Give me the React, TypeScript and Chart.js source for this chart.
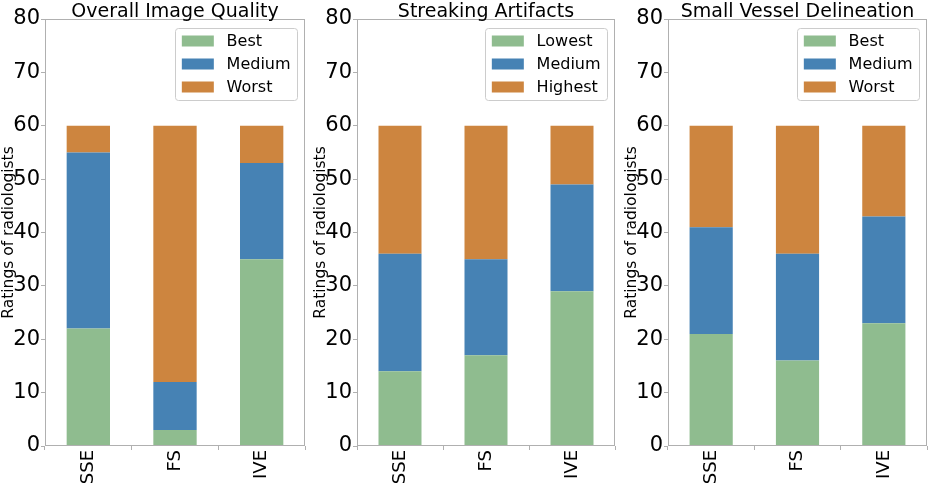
import React, { useEffect, useRef } from "react";
import { Chart, registerables } from "chart.js";

Chart.register(...registerables);

const categories = ["SSE", "FS", "IVE"];

const overallBest = [22, 3, 35];
const overallMedium = [33, 9, 18];
const overallWorst = [5, 48, 7];

const streakLowest = [14, 17, 29];
const streakMedium = [22, 18, 20];
const streakHighest = [24, 25, 11];

const vesselBest = [21, 16, 23];
const vesselMedium = [20, 20, 20];
const vesselWorst = [19, 24, 17];

const yTickMax = 80;
const yTickStep = 10;
const yAxisLabel = "Ratings of radiologists";

const GREEN = "#8fbc8f";
const BLUE = "#4682b4";
const ORANGE = "#cd853f";
const FONT = '"DejaVu Sans", sans-serif';

type PanelSpec = {
  title: string;
  labels: string[];
  series: number[][];
  plotLeft: number;
  plotRight: number;
};

const panels: PanelSpec[] = [
  { title: "Overall Image Quality", labels: ["Best", "Medium", "Worst"], series: [overallBest, overallMedium, overallWorst], plotLeft: 45, plotRight: 305 },
  { title: "Streaking Artifacts", labels: ["Lowest", "Medium", "Highest"], series: [streakLowest, streakMedium, streakHighest], plotLeft: 357, plotRight: 615 },
  { title: "Small Vessel Delineation", labels: ["Best", "Medium", "Worst"], series: [vesselBest, vesselMedium, vesselWorst], plotLeft: 668, plotRight: 927 },
];

const COLORS = [GREEN, BLUE, ORANGE];
const H = 484;
const PLOT_TOP = 19;
const PLOT_BOTTOM = 446;
const YAXIS_W = 45;

const decoPlugin = {
  id: "panelDeco",
  afterDraw(chart: any, _args: any, opts: any) {
    const { ctx, chartArea: a } = chart;
    ctx.save();
    // spines
    ctx.strokeStyle = "#b0b0b0";
    ctx.lineWidth = 1;
    ctx.strokeRect(Math.round(a.left) + 0.5, Math.round(a.top) + 0.5, Math.round(a.right - a.left) - 1, Math.round(a.bottom - a.top) - 1);
    // title
    ctx.fillStyle = "#000";
    ctx.font = `19px ${FONT}`;
    ctx.textAlign = "center";
    ctx.textBaseline = "alphabetic";
    ctx.fillText(opts.title, (a.left + a.right) / 2, a.top - 2.5);
    // y label
    ctx.save();
    ctx.translate(a.left - 36.5, (a.top + a.bottom) / 2);
    ctx.rotate(-Math.PI / 2);
    ctx.font = `15.5px ${FONT}`;
    ctx.textBaseline = "middle";
    ctx.textAlign = "center";
    ctx.fillText(yAxisLabel, 0, 0);
    ctx.restore();
    // legend
    const fs = 16;
    ctx.font = `${fs}px ${FONT}`;
    const labels: string[] = opts.labels;
    const maxW = Math.max(...labels.map((l) => ctx.measureText(l).width));
    const pad = 0.4 * fs;
    const handle = 2 * fs;
    const tpad = 0.8 * fs;
    const boxW = pad + handle + tpad + maxW + pad;
    const boxH = 72;
    const right = a.right - 8;
    const left = right - boxW;
    const top = a.top + 9;
    ctx.fillStyle = "rgba(255,255,255,0.8)";
    ctx.strokeStyle = "#cccccc";
    ctx.lineWidth = 1;
    ctx.beginPath();
    (ctx as any).roundRect(Math.round(left) + 0.5, Math.round(top) + 0.5, Math.round(boxW), boxH, 3);
    ctx.fill();
    ctx.stroke();
    labels.forEach((l, i) => {
      const cy = top + 13 + i * 23;
      ctx.fillStyle = opts.colors[i];
      ctx.fillRect(left + pad, cy - 5.5, handle, 11);
      ctx.fillStyle = "#000";
      ctx.textAlign = "left";
      ctx.textBaseline = "middle";
      ctx.fillText(l, left + pad + handle + tpad, cy + 1);
    });
    ctx.restore();
  },
};

function Panel({ spec }: { spec: PanelSpec }) {
  const ref = useRef<HTMLCanvasElement>(null);
  const canvasLeft = spec.plotLeft - YAXIS_W;
  const width = Math.min(930, spec.plotRight + 3) - canvasLeft;
  const rightPad = width - (spec.plotRight - canvasLeft);

  useEffect(() => {
    if (!ref.current) return;
    const chart = new Chart(ref.current, {
      type: "bar",
      data: {
        labels: categories,
        datasets: spec.series.map((vals, i) => ({
          label: spec.labels[i],
          data: vals,
          backgroundColor: COLORS[i],
          borderWidth: 0,
          categoryPercentage: 1,
          barPercentage: 0.5,
        })),
      },
      options: {
        animation: false,
        responsive: false,
        maintainAspectRatio: false,
        layout: { padding: { top: PLOT_TOP, right: rightPad, left: 0, bottom: 0 } },
        plugins: {
          legend: { display: false },
          tooltip: { enabled: false },
          title: { display: false },
          panelDeco: { title: spec.title, labels: spec.labels, colors: COLORS },
        } as any,
        scales: {
          x: {
            stacked: true,
            offset: true,
            grid: { display: true, drawOnChartArea: false, drawTicks: true, tickLength: 4, color: "#b0b0b0" },
            border: { display: false },
            ticks: { color: "#000", font: { family: FONT, size: 18 }, minRotation: 90, maxRotation: 90, padding: 0 },
            afterFit: (s: any) => {
              s.height = H - PLOT_BOTTOM;
            },
          },
          y: {
            stacked: true,
            min: 0,
            max: yTickMax,
            grid: { display: true, drawOnChartArea: false, drawTicks: true, tickLength: 4, color: "#b0b0b0" },
            border: { display: false },
            ticks: { stepSize: yTickStep, color: "#000", font: { family: FONT, size: 21 }, padding: 1 },
            afterFit: (s: any) => {
              s.width = YAXIS_W;
            },
          },
        },
      },
      plugins: [decoPlugin],
    });
    return () => chart.destroy();
  }, []);

  return (
    <div style={{ position: "absolute", left: canvasLeft, top: 0, width, height: H }}>
      <canvas ref={ref} width={width} height={H} style={{ display: "block", width, height: H }} />
    </div>
  );
}

export default function App() {
  return (
    <div style={{ position: "fixed", left: 0, top: 0, width: 930, height: H, background: "#fff" }}>
      {panels.map((p, i) => (
        <Panel key={i} spec={p} />
      ))}
    </div>
  );
}
